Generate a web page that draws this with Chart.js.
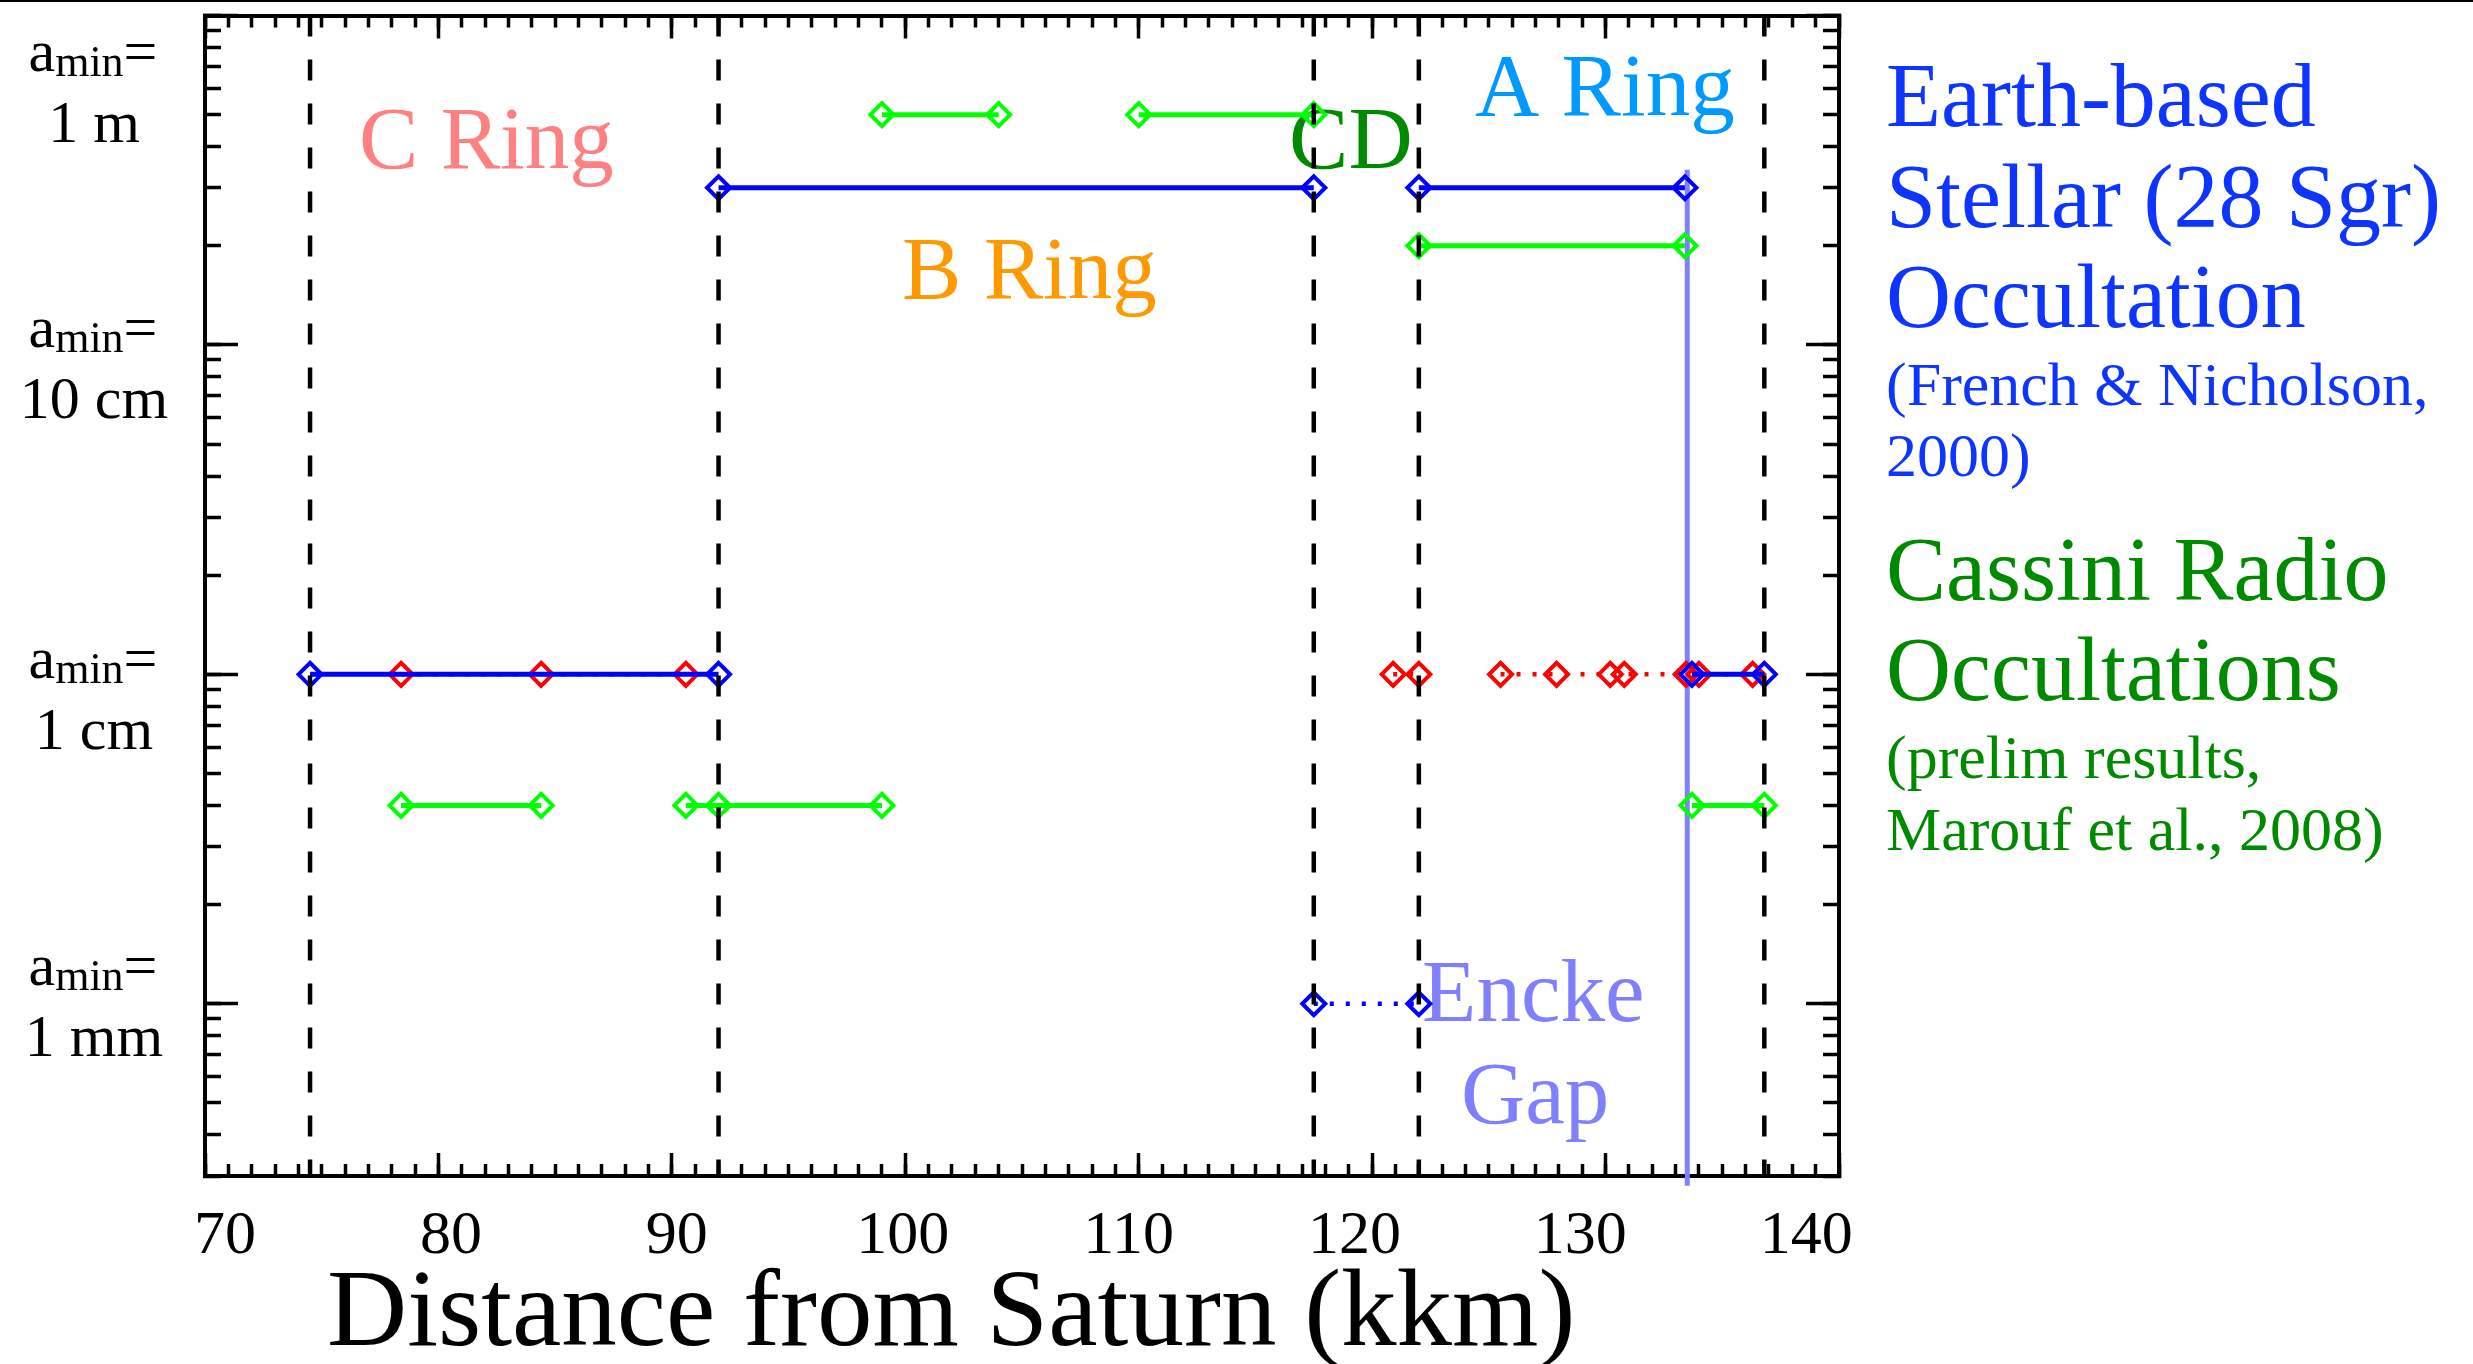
<!DOCTYPE html>
<html>
<head>
<meta charset="utf-8">
<title>Minimum particle size across Saturn's rings</title>
<script src="https://cdn.jsdelivr.net/npm/chart.js@4.4.1/dist/chart.umd.min.js"></script>
<style>
  html, body { margin: 0; padding: 0; background: #fff; }
  #wrap { width: 2473px; height: 1364px; }
</style>
</head>
<body>
<div id="wrap"><canvas id="rings" width="2473" height="1364"></canvas></div>
<script>
// radial distance in kkm, a_min in cm
const ringEdges = [74.5, 92.0, 117.5, 122.0, 136.8]; // C inner, B inner, B outer, A inner, A outer
const enckeGap = 133.5;
const enckeSpan = [34, 0.028];

// Earth-based stellar occultation (28 Sgr), French & Nicholson 2000
const stellarX = [[92.0, 117.5], [122.0, 133.4], [74.5, 92.0], [133.7, 136.8]];
const stellarA = [30, 30, 1, 1];
const stellarDottedX = [[117.5, 122.0]];
const stellarDottedA = [0.1];

// Cassini radio occultations, Marouf et al. 2008
const radioX = [[99.0, 104.0], [110.0, 117.5], [122.0, 133.4], [78.4, 84.4], [90.6, 92.0, 99.0], [133.7, 136.8]];
const radioA = [50, 50, 20, 0.4, 0.4, 0.4];

// red dotted row at 1 cm
const redX = [[78.4, 84.4, 90.6], [120.9, 122.0], [125.5, 127.9, 130.2, 130.8, 133.45, 134.0, 136.3]];
const redA = [1, 1, 1];

const xRange = [70, 140];
const xLabelRange = [69.11, 141.45]; // the number row is set slightly tighter than the frame
const yRange = [0.03, 100];
const xTickLabels = [70, 80, 90, 100, 110, 120, 130, 140];
const yTickValues = [100, 10, 1, 0.1];
const yTickUnits = ['1 m', '10 cm', '1 cm', '1 mm'];

const serif = '"Liberation Serif", "Times New Roman", serif';
Chart.defaults.font.family = serif;

// minor tick positions
const xMinorTicks = [];
for (let v = xRange[0]; v <= xRange[1]; v++) xMinorTicks.push(v);
const yMinorTicks = [];
for (let e = -2; e <= 1; e++) {
  for (let k = 1; k <= 9; k++) {
    const v = +(k * Math.pow(10, e)).toPrecision(3);
    if (v >= yRange[0] - 1e-9) yMinorTicks.push(v);
  }
}
yMinorTicks.push(yRange[1]);

// each run becomes a line piece; nulls break the line between runs
function toPoints(runs, rows) {
  const pts = [];
  runs.forEach((run, i) => {
    if (i > 0) pts.push({ x: run[0], y: null });
    run.forEach(x => pts.push({ x: x, y: rows[i] }));
  });
  return pts;
}

const diamond = {
  pointStyle: 'rectRot',
  pointRadius: 11.5,
  pointHoverRadius: 11.5,
  pointBorderWidth: 4,
  pointBackgroundColor: 'rgba(0,0,0,0)',
  fill: false,
  tension: 0,
  borderCapStyle: 'butt'
};

const datasets = [
  ...ringEdges.map(e => ({
    data: [{ x: e, y: yRange[1] }, { x: e, y: yRange[0] }],
    borderColor: '#000', borderWidth: 4.5, borderDash: [21, 23], pointRadius: 0, order: 0
  })),
  Object.assign({ data: toPoints(stellarX, stellarA), borderColor: '#0000ff', pointBorderColor: '#0000ff', borderWidth: 5, order: 1 }, diamond),
  Object.assign({ data: toPoints(stellarDottedX, stellarDottedA), borderColor: '#0000ff', pointBorderColor: '#0000ff', borderWidth: 4.5, borderDash: [4, 12], order: 1 }, diamond),
  Object.assign({ data: toPoints(radioX, radioA), borderColor: '#00ff00', pointBorderColor: '#00ff00', borderWidth: 5, order: 2 }, diamond),
  Object.assign({ data: toPoints(redX, redA), borderColor: '#ff0000', pointBorderColor: '#ff0000', borderWidth: 4.5, borderDash: [4, 12], order: 3 }, diamond),
  {
    data: [{ x: enckeGap, y: enckeSpan[0] }, { x: enckeGap, y: enckeSpan[1] }],
    borderColor: '#8080ff', borderWidth: 5, pointRadius: 0, clip: false, order: 4
  }
];

// frame axis: inward tick marks only, zero thickness; the plot box is fixed by layout padding
function frameAxis(position, type, values, len) {
  const horizontal = position === 'top' || position === 'bottom';
  return {
    type: type,
    position: position,
    axis: horizontal ? 'x' : 'y',
    weight: -1,
    min: horizontal ? xRange[0] : yRange[0],
    max: horizontal ? xRange[1] : yRange[1],
    bounds: 'data',
    afterBuildTicks: s => { s.ticks = values.map(v => ({ value: v })); },
    afterFit: s => { if (horizontal) s.height = 0; else s.width = 0; },
    grid: { display: true, drawOnChartArea: false, drawTicks: true, tickLength: -len, tickWidth: 3.5, tickColor: '#000' },
    border: { display: true, width: 4, color: '#000' },
    ticks: { display: false }
  };
}

// number row under the frame
const xLabelAxis = {
  type: 'linear',
  position: 'bottom',
  axis: 'x',
  weight: 0,
  min: xLabelRange[0],
  max: xLabelRange[1],
  bounds: 'data',
  afterBuildTicks: s => { s.ticks = xTickLabels.map(v => ({ value: v })); },
  afterFit: s => { s.height = 120; },
  grid: { display: false, drawTicks: false },
  border: { display: false },
  ticks: { display: true, color: '#000', font: { family: serif, size: 62 }, padding: 24, maxRotation: 0, autoSkip: false }
};

const ringLabels = [
  { text: 'C Ring', x: 76.6, a: 34.4, color: '#ff8080' },
  { text: 'B Ring', x: 99.86, a: 13.9, color: '#ff9900' },
  { text: 'CD', x: 116.44, a: 34.4, color: '#008a00' },
  { text: 'A Ring', x: 124.41, a: 49.8, color: '#0099ff' },
  { text: 'Encke', x: 122.14, a: 0.0888, color: '#8080ff' },
  { text: 'Gap', x: 123.81, a: 0.0436, color: '#8080ff' }
];

const yLabelShift = [55, 2, 4, -19];

const legendLines = [
  { text: 'Earth-based', size: 90, dy: 126, color: '#0d35ff' },
  { text: 'Stellar (28 Sgr)', size: 90, dy: 227, color: '#0d35ff' },
  { text: 'Occultation', size: 90, dy: 327, color: '#0d35ff' },
  { text: '(French & Nicholson,', size: 62, dy: 405, color: '#0d35ff' },
  { text: '2000)', size: 62, dy: 476, color: '#0d35ff' },
  { text: 'Cassini Radio', size: 90, dy: 600, color: '#008a00' },
  { text: 'Occultations', size: 90, dy: 700, color: '#008a00' },
  { text: '(prelim results,', size: 62, dy: 778, color: '#008a00' },
  { text: 'Marouf et al., 2008)', size: 62, dy: 850, color: '#008a00' }
];

function drawAmin(ctx, cx, baseline) {
  const big = '60px ' + serif, small = '44px ' + serif;
  ctx.font = big;
  const wa = ctx.measureText('a').width, we = ctx.measureText('=').width;
  ctx.font = small;
  const wm = ctx.measureText('min').width;
  let x = cx - (wa + wm + we) / 2;
  ctx.textAlign = 'left';
  ctx.font = big; ctx.fillText('a', x, baseline); x += wa;
  ctx.font = small; ctx.fillText('min', x, baseline + 5); x += wm;
  ctx.font = big; ctx.fillText('=', x, baseline);
}

const textLayer = {
  id: 'textLayer',
  beforeDatasetsDraw(chart) {
    const ctx = chart.ctx, xs = chart.scales.x, ys = chart.scales.y;
    ctx.save();
    ctx.textAlign = 'left';
    ctx.textBaseline = 'alphabetic';
    ctx.font = '89px ' + serif;
    ringLabels.forEach(l => {
      ctx.fillStyle = l.color;
      ctx.fillText(l.text, xs.getPixelForValue(l.x), ys.getPixelForValue(l.a));
    });
    ctx.restore();
  },
  afterDraw(chart) {
    const ctx = chart.ctx, area = chart.chartArea, ys = chart.scales.y;
    ctx.save();
    ctx.fillStyle = '#000';
    ctx.fillRect(0, 0, chart.width, 2);
    ctx.textBaseline = 'alphabetic';

    // y labels: a_min= / size
    const cx = area.left - 112;
    yTickValues.forEach((v, i) => {
      const base = ys.getPixelForValue(v) + yLabelShift[i];
      ctx.fillStyle = '#000';
      drawAmin(ctx, cx, base);
      ctx.font = '60px ' + serif;
      ctx.textAlign = 'center';
      ctx.fillText(yTickUnits[i], cx + 1, base + 71);
    });

    // data source notes on the right
    ctx.textAlign = 'left';
    legendLines.forEach(l => {
      ctx.fillStyle = l.color;
      ctx.font = l.size + 'px ' + serif;
      ctx.fillText(l.text, area.right + 47, l.dy);
    });

    // x axis title
    ctx.fillStyle = '#000';
    ctx.font = '111px ' + serif;
    ctx.fillText('Distance from Saturn (kkm)', area.left + 122, area.bottom + 169);
    ctx.restore();
  }
};

new Chart(document.getElementById('rings'), {
  type: 'line',
  data: { datasets: datasets.map(d => Object.assign({ xAxisID: 'x', yAxisID: 'y' }, d)) },
  options: {
    responsive: false,
    animation: false,
    devicePixelRatio: 1,
    events: [],
    layout: { padding: { left: 205, top: 15, right: 634, bottom: 68 } },
    plugins: { legend: { display: false }, tooltip: { enabled: false } },
    scales: {
      x: frameAxis('bottom', 'linear', xTickLabels, 23),
      xMinor: frameAxis('bottom', 'linear', xMinorTicks, 12),
      xLabels: xLabelAxis,
      xTop: frameAxis('top', 'linear', xTickLabels, 23),
      xTopMinor: frameAxis('top', 'linear', xMinorTicks, 12),
      y: frameAxis('left', 'logarithmic', yMinorTicks, 16),
      yMajor: frameAxis('left', 'logarithmic', yTickValues, 33),
      yRight: frameAxis('right', 'logarithmic', yMinorTicks, 16),
      yRightMajor: frameAxis('right', 'logarithmic', yTickValues, 33)
    }
  },
  plugins: [textLayer]
});
</script>
</body>
</html>
